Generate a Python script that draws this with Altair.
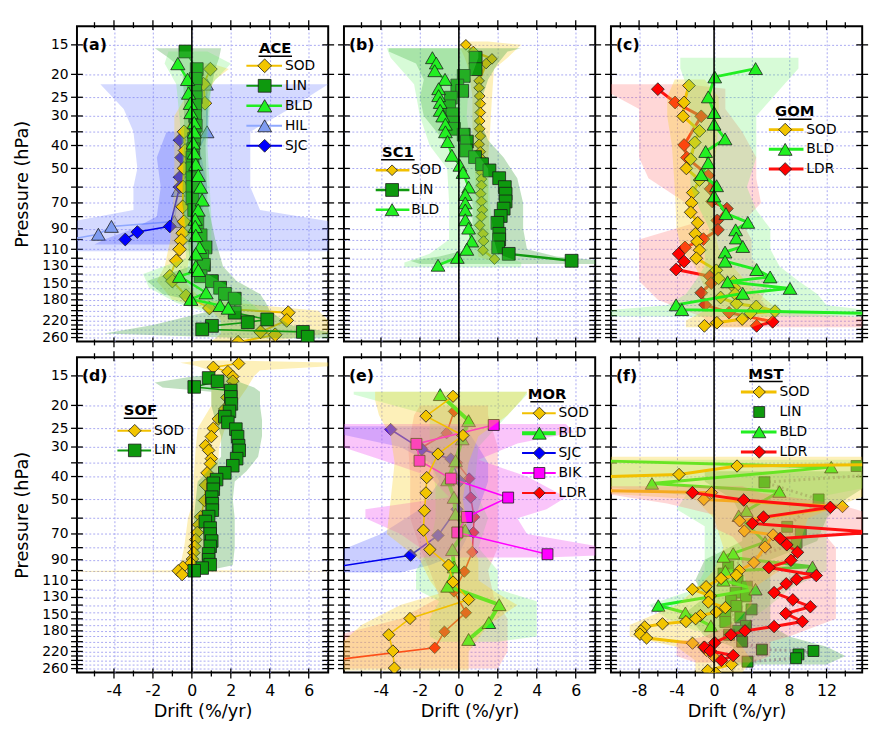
import altair as alt
import pandas as pd

# ---------------- data ----------------
# Panel (a) ACE
A_SOD_P = [19.0, 22.0, 26.5, 35.0, 42.0, 50.0, 60.0, 72.7, 84.0, 94.0, 101.0, 110.0, 123.0, 143.0, 150.0, 173.0, 195.0, 204.0, 220.0, 246.0, 253.0, 272.0]
A_SOD_X = [0.95, 0.6, 0.67, -0.4, -0.35, -0.4, -0.45, -0.47, -0.4, -0.47, -0.55, -0.63, -0.8, -1.13, -1.0, -0.3, 0.9, 4.95, 4.87, 3.53, 4.28, 2.37]
A_SOD_BP = [18.0, 19.0, 21.0, 30.0, 60.0, 100.0, 130.0, 150.0, 180.0, 200.0, 220.0, 250.0, 270.0]
A_SOD_LO = [0.0, -0.1, 0.2, -0.9, -0.9, -1.1, -1.4, -1.8, -1.0, 1.0, 1.5, 1.5, 1.0]
A_SOD_HI = [1.0, 1.9, 1.2, 0.2, 0.1, 0.0, -0.2, -0.4, 0.5, 6.5, 7.0, 7.0, 4.0]

A_LIN_P = [16.0, 19.0, 20.9, 23.5, 25.0, 27.0, 30.0, 33.0, 37.5, 41.5, 45.0, 50.0, 55.0, 60.0, 67.0, 75.0, 85.0, 96.0, 108.0, 118.0, 128.0, 143.0, 150.0, 160.0, 170.0, 178.0, 204.0, 218.0, 224.0, 232.0, 240.0, 246.0, 258.0]
A_LIN_X = [-0.33, 0.25, 0.2, 0.17, 0.2, 0.17, 0.17, 0.2, 0.12, 0.07, 0.03, 0.03, 0.03, 0.03, 0.03, 0.12, 0.28, 0.45, 0.7, 0.53, 0.62, 0.45, 1.03, 1.45, 1.7, 2.2, 2.2, 3.87, 2.87, 1.03, 0.53, 5.7, 5.95]
A_LIN_BP = [15.5, 17.0, 19.0, 25.0, 40.0, 70.0, 100.0, 130.0, 150.0, 170.0, 185.0, 200.0, 230.0, 250.0, 262.0]
A_LIN_LO = [-1.9, -1.2, -0.5, -0.4, -0.4, -0.5, -0.2, -0.1, -2.3, -1.5, 0.5, 1.0, -2.0, -4.5, 3.0]
A_LIN_HI = [1.5, 1.4, 1.2, 0.9, 0.7, 0.8, 1.2, 1.6, 2.3, 3.5, 3.8, 4.0, 5.0, 7.5, 7.5]

A_BLD_P = [18.0, 21.0, 24.0, 26.5, 29.0, 32.0, 35.0, 39.0, 43.0, 48.0, 53.5, 60.0, 68.0, 75.0, 82.0, 88.0, 96.0, 108.0, 115.0, 130.0, 135.0, 143.0, 168.0, 179.0, 190.0, 195.0]
A_BLD_X = [-0.72, -0.22, -0.17, -0.08, -0.05, 0.12, 0.12, 0.07, 0.12, 0.2, 0.33, 0.45, 0.53, 0.32, 0.17, 0.17, 0.2, 0.4, 0.2, 0.2, 0.33, -0.63, 0.73, -0.05, 1.45, 1.87]
A_BLD_BP = [16.0, 18.0, 22.0, 40.0, 80.0, 120.0, 140.0, 160.0, 185.0, 200.0]
A_BLD_LO = [-1.2, -1.4, -0.8, -0.5, -0.4, -0.3, -2.5, -2.2, -0.8, 0.5]
A_BLD_HI = [0.8, 2.0, 1.0, 0.8, 1.0, 1.0, 0.8, 2.0, 3.0, 3.5]

A_HIL_P = [22.0, 35.0, 62.0, 84.0, 88.0, 95.0, 104.0]
A_HIL_X = [0.75, 0.78, -0.7, -0.9, -4.13, -4.8, -7.5]
A_HIL_BP = [22.0, 28.0, 35.0, 50.0, 60.0, 75.0, 85.0, 95.0, 108.0, 112.0]
A_HIL_LO = [-4.7, -3.5, -3.0, -2.8, -3.0, -3.0, -6.5, -6.5, -6.5, -6.5]
A_HIL_HI = [7.0, 5.0, 3.0, 3.0, 3.0, 3.5, 7.5, 7.5, 7.5, 7.5]

A_SJC_P = [38.0, 45.0, 54.5, 60.0, 88.0, 93.0, 100.0]
A_SJC_X = [-0.63, -0.55, -0.63, -0.63, -1.13, -2.8, -3.42]
A_SJC_BP = [35.0, 45.0, 60.0, 80.0, 90.0, 100.0, 105.0]
A_SJC_LO = [-1.3, -1.8, -1.6, -1.8, -3.0, -4.5, -5.0]
A_SJC_HI = [0.2, 0.5, 0.8, 0.5, 0.5, 0.3, 0.0]

# Panel (b) SC1
B_SOD_P = [15.0, 16.0, 17.2, 18.0, 21.3, 22.8, 24.7, 26.6, 29.0, 31.5, 34.0, 36.5, 39.5, 42.5, 45.5, 48.5, 52.0, 55.5, 59.0, 64.0, 69.0, 75.0, 80.0, 87.0, 94.6, 101.5, 111.0, 121.0]
B_SOD_X = [0.36, 0.74, 1.7, 1.4, 1.04, 1.04, 1.07, 1.1, 1.1, 1.07, 1.07, 1.1, 1.04, 1.1, 1.16, 1.16, 1.16, 1.16, 1.16, 1.12, 1.16, 1.21, 1.16, 1.07, 1.24, 1.27, 1.24, 1.83]
B_SOD_BP = [14.5, 15.0, 17.0, 19.0, 25.0, 35.0, 45.0, 70.0, 100.0, 118.0, 122.0]
B_SOD_LO = [0.2, 0.0, 0.3, 0.5, 0.7, 0.7, 0.8, 0.9, 0.9, 1.0, 1.5]
B_SOD_HI = [1.5, 3.2, 2.5, 1.8, 1.7, 1.6, 1.5, 1.5, 1.6, 1.8, 2.2]

B_LIN_P = [17.0, 19.0, 20.3, 22.3, 23.5, 25.1, 27.3, 29.5, 32.0, 34.0, 36.0, 38.5, 42.0, 44.8, 48.0, 51.0, 55.0, 60.0, 64.0, 69.0, 74.0, 79.5, 85.0, 94.6, 100.0, 108.0, 115.0, 123.0]
B_LIN_X = [0.86, 0.86, 0.25, -0.08, 0.17, -0.41, -0.5, -0.33, -0.3, -0.25, 0.25, 0.41, 0.38, 0.83, 1.19, 1.57, 2.07, 2.36, 2.4, 2.4, 2.3, 2.15, 1.98, 2.07, 2.07, 2.02, 2.56, 5.79]
B_LIN_BP = [15.5, 16.0, 18.0, 21.0, 25.0, 30.0, 38.0, 45.0, 55.0, 70.0, 90.0, 110.0, 118.0, 123.0, 127.0]
B_LIN_LO = [-3.6, -3.6, -2.2, -1.8, -2.0, -1.8, -0.8, -0.2, 0.3, 0.7, 0.7, 0.5, -1.0, -2.5, -2.0]
B_LIN_HI = [3.2, 2.5, 2.0, 1.5, 1.2, 1.0, 1.5, 2.3, 3.0, 3.3, 3.3, 3.5, 5.0, 7.5, 7.5]

B_BLD_P = [17.0, 17.9, 19.3, 21.0, 23.0, 24.6, 26.3, 28.4, 30.0, 32.5, 35.0, 38.5, 44.0, 48.5, 52.0, 60.0, 64.5, 70.0, 75.0, 82.5, 89.5, 101.5, 110.0, 119.0, 128.5]
B_BLD_X = [-1.36, -1.16, -1.24, -0.71, -1.04, -1.04, -0.96, -0.96, -0.83, -0.69, -0.69, -0.58, -0.36, 0.05, 0.21, 0.5, 0.33, 0.33, 0.33, 0.33, 0.5, 0.66, 0.41, -0.08, -1.07]
B_BLD_BP = [15.5, 17.0, 22.0, 30.0, 40.0, 50.0, 70.0, 100.0, 115.0, 125.0, 131.0]
B_BLD_LO = [-3.7, -3.5, -2.3, -2.0, -1.5, -0.6, -0.5, -0.5, -1.5, -2.8, -2.8]
B_BLD_HI = [1.0, 1.0, 0.5, 0.4, 0.6, 1.5, 1.6, 1.8, 2.0, 3.2, 3.2]

# Panel (c) GOM
C_SOD_P = [22.3, 26.3, 30.1, 34.7, 38.8, 45.7, 50.0, 56.0, 63.3, 70.0, 76.7, 85.0, 94.6, 102.0, 111.0, 120.0, 135.0, 146.0, 151.0, 160.0, 170.0, 176.0, 187.0, 192.0, 201.0, 205.0, 217.0, 225.0, 232.0]
C_SOD_X = [-2.68, -3.2, -3.3, -1.55, -2.06, -2.5, -2.96, -1.55, -2.27, -2.4, -2.5, -1.75, -2.0, -1.8, -1.55, -1.9, 0.24, 0.48, 2.06, 2.2, 2.24, 0.7, 2.4, 4.5, 6.5, 3.9, 3.0, 0.3, -1.03]
C_SOD_BP = [21.0, 25.0, 30.0, 40.0, 60.0, 90.0, 110.0, 130.0, 160.0, 200.0, 220.0, 235.0]
C_SOD_LO = [-4.2, -5.0, -5.0, -4.5, -4.2, -4.0, -3.5, -2.0, -1.0, -1.0, -3.0, -3.0]
C_SOD_HI = [-1.0, 0.5, 0.5, 0.3, -0.3, 0.0, 0.5, 2.0, 4.0, 7.0, 6.0, 4.0]

C_BLD_P = [18.9, 20.5, 24.9, 29.0, 32.5, 37.5, 42.4, 47.3, 53.1, 59.2, 65.4, 77.7, 84.6, 91.0, 98.5, 107.0, 113.0, 123.5, 134.0, 144.0, 151.0, 161.0, 169.0, 189.0, 198.0, 206.0]
C_BLD_X = [4.43, 0.07, -0.62, 0.0, 0.0, 1.17, -0.9, -0.62, -1.37, 0.27, 0.0, 1.27, 3.6, 2.3, 2.37, 3.06, 1.17, 1.17, 4.54, 5.98, 1.44, 8.1, 3.06, -4.05, -3.44, 18.0]
C_BLD_BP = [17.0, 18.9, 22.0, 30.0, 45.0, 60.0, 75.0, 90.0, 110.0, 130.0, 150.0, 170.0, 190.0, 200.0, 212.0]
C_BLD_LO = [-3.6, -3.6, -3.0, -2.5, -2.6, -2.5, -1.5, -0.5, -1.0, -1.0, -2.0, -3.0, -5.0, -12.0, -12.0]
C_BLD_HI = [9.0, 9.0, 7.5, 4.5, 4.5, 3.5, 4.5, 6.0, 6.0, 7.0, 9.0, 11.0, 12.0, 17.0, 17.0]

C_LDR_P = [23.1, 26.3, 30.1, 39.8, 45.0, 53.6, 61.0, 69.0, 74.0, 83.0, 91.0, 99.6, 108.0, 115.0, 124.0, 134.0, 143.0, 153.0, 168.0, 189.0, 204.0, 223.0, 232.0]
C_LDR_X = [-6.0, -4.16, -1.37, -3.2, -2.9, -0.62, -0.38, -0.2, 1.37, 0.34, 0.41, -1.13, -3.1, -3.78, -3.2, -4.05, -0.45, -0.3, -1.37, -0.96, 1.6, 6.25, 4.54]
C_LDR_BP = [22.0, 23.0, 28.0, 35.0, 45.0, 55.0, 70.0, 85.0, 100.0, 120.0, 150.0, 180.0, 200.0, 215.0, 235.0]
C_LDR_LO = [-12.0, -12.0, -8.0, -8.0, -8.0, -7.0, -3.0, -2.0, -8.0, -8.0, -8.0, -6.0, -3.0, -1.0, -1.0]
C_LDR_HI = [-3.0, 1.2, 1.2, 3.0, 4.5, 4.5, 5.0, 3.0, 4.0, 4.0, 6.0, 5.0, 6.0, 17.0, 17.0]

# Panel (d) SOF
D_SOD_P = [13.3, 13.8, 14.4, 15.1, 15.8, 17.0, 18.5, 20.7, 22.8, 25.0, 27.1, 29.6, 31.0, 33.6, 35.3, 38.6, 43.5, 50.5, 59.2, 64.0, 69.0, 74.0, 79.0, 84.0, 89.4, 93.0, 96.6, 100.2, 104.0]
D_SOD_X = [2.4, 1.1, 1.85, 2.1, 2.1, 1.95, 1.8, 1.69, 1.36, 1.1, 1.0, 0.7, 0.86, 1.0, 0.95, 0.78, 0.7, 0.65, 0.45, 0.35, 0.28, 0.2, 0.15, 0.1, 0.03, -0.05, -0.46, -0.7, -0.5]
D_SOD_BP = [12.9, 13.2, 13.6, 14.2, 15.0, 17.0, 20.0, 25.0, 30.0, 40.0, 50.0, 60.0, 80.0, 95.0, 99.8, 100.4, 101.0, 101.6, 104.0, 106.0]
D_SOD_LO = [0.5, -0.6, 0.2, 0.9, 0.8, 1.0, 1.0, 0.3, 0.2, 0.1, 0.1, -0.2, -0.4, -0.6, -0.6, -6.5, -6.5, -0.8, -0.9, -0.6]
D_SOD_HI = [2.0, 7.5, 7.5, 3.5, 3.2, 2.8, 2.2, 1.7, 1.4, 1.3, 1.3, 1.1, 0.9, 0.8, 1.0, 7.5, 7.5, 0.6, 0.0, -0.2]

D_LIN_P = [15.3, 15.8, 16.7, 17.3, 18.4, 19.7, 21.2, 22.3, 23.6, 25.2, 27.1, 29.6, 31.0, 33.6, 36.0, 38.6, 41.2, 42.7, 45.3, 48.9, 52.1, 55.5, 59.1, 62.0, 66.1, 70.0, 75.0, 79.0, 85.0, 90.0, 94.4, 97.6, 100.2]
D_LIN_X = [0.86, 1.32, 0.12, 2.0, 2.0, 2.03, 1.93, 1.69, 1.85, 2.26, 2.35, 2.4, 2.43, 2.3, 2.1, 1.69, 1.27, 1.1, 1.1, 1.02, 1.05, 1.05, 0.86, 0.69, 0.94, 0.94, 1.02, 0.94, 0.86, 0.86, 0.94, 0.53, 0.12]
D_LIN_BP = [15.0, 16.0, 16.8, 17.5, 20.0, 23.0, 27.0, 33.0, 38.0, 42.0, 50.0, 60.0, 80.0, 95.0, 100.0]
D_LIN_LO = [0.2, -1.9, -1.5, 1.0, 1.0, 1.2, 1.5, 1.5, 0.8, 0.3, 0.2, 0.1, 0.2, 0.1, -0.1]
D_LIN_HI = [2.0, 2.5, 3.2, 3.5, 3.5, 3.6, 3.6, 3.4, 2.8, 2.2, 2.1, 2.2, 2.2, 2.1, 0.8]

# Panel (e) MOR
E_SOD_P = [18.3, 22.2, 26.8, 32.1, 40.4, 46.9, 55.8, 67.5, 81.5, 94.8, 111.8, 132.6, 159.5, 187.0, 219.0, 258.6]
E_SOD_X = [-0.3, -1.69, 0.21, -1.07, -1.65, -1.69, -1.77, -1.82, -1.49, -0.53, -0.3, 0.5, -2.51, -3.6, -3.39, -3.31]
E_SOD_BP = [17.5, 19.0, 22.0, 27.0, 35.0, 50.0, 70.0, 90.0, 110.0, 125.0, 140.0, 170.0, 220.0, 265.0]
E_SOD_LO = [-4.3, -4.3, -4.1, -3.5, -3.3, -3.5, -3.7, -2.0, -1.5, -1.0, -3.0, -5.0, -6.5, -6.5]
E_SOD_HI = [3.5, 3.2, 2.5, 1.0, 0.5, 0.2, 0.5, 1.0, 1.0, 2.0, 3.0, 1.5, 0.5, 0.5]

E_BLD_P = [18.0, 23.2, 27.7, 34.3, 41.3, 49.0, 57.7, 67.5, 81.5, 96.5, 116.5, 139.5, 166.0, 195.7]
E_BLD_X = [-0.96, 0.5, 0.17, -0.17, -0.58, -0.25, -0.17, 0.33, -0.33, -0.25, -0.58, 2.07, 1.54, 0.5]
E_BLD_BP = [17.5, 18.0, 22.0, 30.0, 45.0, 60.0, 80.0, 100.0, 120.0, 135.0, 160.0, 190.0, 200.0]
E_BLD_LO = [-5.4, -5.4, -1.5, -1.5, -1.2, -1.2, -1.5, -2.2, -2.2, -1.0, -1.5, -1.5, -1.0]
E_BLD_HI = [3.5, 3.5, 2.5, 1.0, 0.8, 1.5, 1.0, 2.0, 2.0, 4.0, 4.0, 4.0, 2.0]

E_SJC_P = [25.3, 30.7, 33.7, 41.8, 55.0, 71.0, 86.1, 100.0]
E_SJC_X = [-3.5, -1.9, -0.41, 0.05, -0.1, -1.07, -2.48, -7.5]
E_SJC_BP = [24.5, 26.0, 30.0, 35.0, 42.0, 55.0, 70.0, 85.0, 95.0, 102.0]
E_SJC_LO = [-6.5, -6.5, -3.0, -1.5, -1.0, -2.0, -4.0, -6.5, -6.5, -6.5]
E_SJC_HI = [0.5, 0.5, 1.0, 1.5, 1.5, 1.0, 0.5, 0.0, -1.5, -3.0]

E_BIK_P = [24.2, 29.1, 34.3, 40.8, 49.1, 59.3, 69.0, 85.3]
E_BIK_X = [1.79, -2.18, -2.02, -0.41, 2.53, 0.41, -0.08, 4.55]
E_BIK_BP = [24.0, 26.0, 29.0, 34.0, 40.0, 49.0, 55.0, 60.0, 70.0, 80.0, 86.0, 88.0]
E_BIK_LO = [-6.5, -6.5, -6.5, -4.0, -1.5, -0.5, -4.8, -4.8, -3.0, -2.0, -2.0, -2.0]
E_BIK_HI = [5.5, 5.9, 3.0, 1.0, 3.5, 5.5, 4.5, 3.0, 3.5, 7.5, 7.5, 4.5]

E_LDR_P = [21.2, 26.2, 30.2, 35.0, 40.8, 49.1, 59.3, 69.0, 83.5, 101.0, 122.6, 150.8, 181.5, 212.4, 245.0]
E_LDR_X = [-0.25, -0.63, -1.93, -0.1, 0.53, 0.61, 0.78, 0.74, 0.69, 0.28, -0.25, 0.36, -0.74, -1.24, -7.5]
E_LDR_BP = [20.0, 22.0, 30.0, 40.0, 60.0, 80.0, 100.0, 130.0, 160.0, 190.0, 220.0, 260.0]
E_LDR_LO = [-2.0, -2.3, -2.6, -2.5, -2.5, -2.0, -1.5, -1.0, -3.0, -6.5, -6.5, -6.5]
E_LDR_HI = [1.5, 1.5, 2.0, 2.0, 2.0, 2.0, 1.5, 1.8, 2.5, 2.5, 2.5, 2.0]

# Panel (f) MST
F_SOD_P = [35.5, 36.1, 39.2, 40.5, 45.5, 46.8, 50.0, 53.6, 61.6, 68.0, 70.6, 79.5, 92.5, 100.0, 104.6, 108.0, 117.0, 120.0, 128.0, 136.0, 143.5, 150.0, 155.0, 160.0, 164.5, 168.0, 173.0, 180.0, 186.0, 193.0, 203.0, 211.0, 218.0, 232.0, 249.7, 264.6, 272.0]
F_SOD_X = [20.0, 2.45, -3.74, -16.0, -16.0, -0.27, -1.09, 13.7, 2.72, 3.23, 6.3, 5.44, 4.25, 2.7, 2.38, 0.75, -0.85, -2.31, -0.4, -0.61, 1.2, 0.24, -1.46, -1.97, -3.0, -5.5, -7.4, -7.8, -7.9, -7.2, -2.3, -1.1, -0.8, 0.0, 1.87, -0.68, 0.2]
F_SOD_BP = [33.0, 35.0, 47.0, 50.0, 60.0, 80.0, 100.0, 120.0, 140.0, 170.0, 190.0, 210.0, 240.0, 270.0]
F_SOD_LO = [-12.0, -12.0, -12.0, -2.0, 0.0, 1.0, 0.0, -2.0, -4.0, -9.0, -9.0, -4.0, -2.0, -2.0]
F_SOD_HI = [17.0, 17.0, 17.0, 15.0, 10.0, 9.0, 7.0, 4.0, 4.0, 2.0, 2.0, 3.0, 4.0, 3.0]

F_LIN_P = [36.1, 39.5, 42.3, 50.0, 65.3, 68.9, 76.3, 96.0, 103.0, 110.0, 117.0, 124.0, 128.6, 134.0, 141.2, 146.0, 150.8, 158.0, 165.0, 171.5, 180.0, 187.0, 200.0, 216.1, 219.0, 226.4, 235.0, 243.0]
F_LIN_X = [15.2, 16.5, 5.37, 11.15, 7.8, 9.25, 8.8, 1.5, 1.0, 2.5, 3.5, 2.3, 3.4, 1.8, 2.38, 4.0, 1.19, 2.8, 1.2, 3.4, 2.5, 1.6, 3.0, 5.1, 10.6, 9.0, 8.74, 3.57]
F_LIN_BP = [38.0, 42.0, 50.0, 60.0, 75.0, 90.0, 110.0, 130.0, 150.0, 170.0, 190.0, 210.0, 230.0, 250.0]
F_LIN_LO = [-1.0, -1.0, 2.0, 3.0, 3.0, -1.0, -2.0, -1.0, -3.0, -2.0, -1.0, 2.0, 2.0, 2.0]
F_LIN_HI = [17.0, 17.0, 14.0, 12.0, 11.0, 6.0, 6.0, 6.0, 6.0, 6.0, 8.0, 12.0, 14.0, 12.0]

F_BLD_P = [34.0, 36.5, 42.8, 46.3, 55.8, 58.6, 75.8, 84.6, 87.2, 96.4, 100.6, 110.0, 120.0, 140.6, 150.8, 171.5]
F_BLD_X = [-16.0, 12.5, -6.63, 6.97, 3.47, 2.62, 5.44, 2.04, 1.02, 10.5, 1.2, 1.0, 4.42, -5.95, -3.06, -0.34]
F_BLD_BP = [34.0, 36.0, 44.0, 48.0, 55.0, 65.0, 80.0, 100.0, 120.0, 140.0, 160.0, 180.0]
F_BLD_LO = [-12.0, -12.0, -12.0, -3.0, -4.0, -1.0, -1.0, -1.0, -2.0, -7.0, -5.0, -2.0]
F_BLD_HI = [17.0, 17.0, 17.0, 12.0, 12.0, 12.0, 12.0, 12.0, 8.0, 6.0, 4.0, 3.0]

F_LDR_P = [46.8, 50.3, 54.0, 59.4, 63.2, 68.9, 73.2, 77.8, 83.7, 90.5, 97.1, 105.0, 108.9, 113.8, 124.0, 133.0, 142.3, 152.0, 164.3, 172.5, 180.0, 187.0, 202.0, 211.0, 219.0, 229.0, 240.0]
F_LDR_X = [-2.31, 3.16, 12.4, 5.27, 4.08, 17.0, 7.04, 7.76, 8.9, 8.2, 5.85, 10.9, 8.8, 7.7, 6.4, 8.4, 10.27, 7.65, 9.42, 6.4, 3.3, 1.8, 0.07, -1.02, -0.4, 2.04, 0.78]
F_LDR_BP = [44.0, 47.0, 52.0, 58.0, 66.0, 72.0, 80.0, 100.0, 130.0, 160.0, 190.0, 200.0, 230.0, 245.0]
F_LDR_LO = [-12.0, -12.0, -5.0, 0.0, 0.0, 2.0, 3.0, 3.0, 4.0, 3.0, -1.0, -4.0, -4.0, -2.0]
F_LDR_HI = [3.0, 5.0, 13.0, 17.0, 17.0, 12.0, 13.0, 13.0, 13.0, 13.0, 8.0, 6.0, 6.0, 4.0]

# axis ticks
Y_TICKS = [15, 20, 25, 30, 35, 40, 50, 60, 70, 80, 90, 100, 110, 120, 130, 140, 150, 160, 170, 180, 190, 200, 210, 220, 230, 240, 250, 260]
Y_LABELED = [15, 20, 25, 30, 40, 50, 70, 90, 110, 130, 150, 180, 220, 260]
X_NARROW = [-5.9, 7.0]
X_NARROW_MAJ = [-4, -2, 0, 2, 4, 6]
X_NARROW_MIN = [-5, -3, -1, 1, 3, 5]
X_WIDE = [-11.0, 15.8]
X_WIDE_MAJ = [-8, -4, 0, 4, 8, 12]
X_WIDE_MIN = [-10, -6, -2, 2, 6, 10, 14]
Y_DOMAIN = [12.5, 270]

# ---------------- styles ----------------
FONT = "DejaVu Sans"
W, H = 255, 320
SX, SY = W / 261.0, H / 326.0
GRID = "#a9a9f2"
COL = {"SOD": "#F2C500", "LIN": "#0E990E", "BLD": "#22F022", "HIL": "#7F9CF0",
       "SJC": "#0000FF", "BIK": "#FF00FF", "LDR": "#FF0000"}
LCOL = {"SOD": "#F2C000", "LIN": "#119911", "BLD": "#22EE22", "HIL": "#8FA8FF",
        "SJC": "#0000EE", "BIK": "#FF00FF", "LDR": "#FF1010"}
BCOL = {"SOD": "#F8D22A", "LIN": "#3FA03F", "BLD": "#66F066", "HIL": "#6F80FF",
        "SJC": "#4050FF", "BIK": "#F050F0", "LDR": "#FF6F6F"}
BOP = {"SOD": 0.33, "LIN": 0.33, "BLD": 0.26, "HIL": 0.3, "SJC": 0.28, "BIK": 0.33, "LDR": 0.28}
SHAPE = {"SOD": "diamond", "LIN": "square", "BLD": "triangle-up", "HIL": "triangle-up",
         "SJC": "diamond", "BIK": "square", "LDR": "diamond"}
SIZE_K = 1.3
LABEL_FS = 14


def xscale(dom):
    return alt.Scale(domain=dom, nice=False, zero=False)


def yscale():
    return alt.Scale(type="log", domain=Y_DOMAIN, reverse=True, nice=False)


def series_layers(name, p, x, bp, lo, hi, xs, size, lw, dotted=False):
    band = pd.DataFrame({"p": bp, "lo": lo, "hi": hi}).sort_values("p")
    pts = pd.DataFrame({"p": p, "x": x})
    out = []
    out.append(alt.Chart(band).mark_area(orient="horizontal", color=BCOL[name], opacity=BOP[name], clip=True).encode(
        y=alt.Y("p:Q", scale=yscale(), axis=None),
        x=alt.X("lo:Q", scale=xs, axis=None),
        x2=alt.X2("hi:Q")))
    if dotted:
        lm = alt.Chart(pts).mark_line(color="#9a9a9a", strokeWidth=lw, strokeDash=[2, 3], clip=True)
    else:
        lm = alt.Chart(pts).mark_line(color=LCOL[name], strokeWidth=lw, clip=True)
    out.append(lm.encode(y=alt.Y("p:Q", scale=yscale(), axis=None),
                         x=alt.X("x:Q", scale=xs, axis=None),
                         order=alt.Order("p:Q")))
    out.append(alt.Chart(pts).mark_point(shape=SHAPE[name], filled=True, fill=COL[name], stroke="#1c1c1c",
                                         strokeWidth=0.8, size=size * SIZE_K, opacity=1, clip=True).encode(
        y=alt.Y("p:Q", scale=yscale(), axis=None),
        x=alt.X("x:Q", scale=xs, axis=None)))
    return out


def legend_layers(title, names, pos, sizes, lws, noline=()):
    tx, ty, y0, dy, lx0, lx1, mx, txx = pos
    tx, lx0, lx1, mx, txx = [v * SX for v in (tx, lx0, lx1, mx, txx)]
    ty, y0 = ty * SY, y0 * SY
    out = []
    tdf = pd.DataFrame({"t": [title]})
    out.append(alt.Chart(tdf).mark_text(font=FONT, fontSize=15, fontWeight="bold", align="center",
                                        baseline="middle", color="black").encode(
        text="t:N", x=alt.value(tx), y=alt.value(ty)))
    out.append(alt.Chart(tdf).mark_rule(color="black", strokeWidth=1.5).encode(
        x=alt.value(tx - 17), x2=alt.value(tx + 17), y=alt.value(ty + 8)))
    for i, n in enumerate(names):
        yy = y0 + i * dy
        df = pd.DataFrame({"n": [n]})
        if n not in noline:
            out.append(alt.Chart(df).mark_rule(color=LCOL[n], strokeWidth=max(lws[n], 2)).encode(
                x=alt.value(lx0), x2=alt.value(lx1), y=alt.value(yy)))
        out.append(alt.Chart(df).mark_point(shape=SHAPE[n], filled=True, fill=COL[n], stroke="#1c1c1c",
                                            strokeWidth=0.8, size=sizes[n] * SIZE_K, opacity=1).encode(
            x=alt.value(mx), y=alt.value(yy)))
        out.append(alt.Chart(df).mark_text(font=FONT, fontSize=14, align="left", baseline="middle",
                                           color="black").encode(
            text="n:N", x=alt.value(txx), y=alt.value(yy)))
    return out


def make_panel(tag, series, draw, leg_title, leg_names, leg_pos, xdom, xmaj, xmin,
               sizes, lws, show_x, show_y, dotted=()):
    xs = xscale(xdom)
    layers = []
    ydf = pd.DataFrame({"v": Y_TICKS})
    yaxis_kw = dict(orient="left", values=Y_TICKS, grid=True, gridColor=GRID, gridDash=[2, 2], gridWidth=1,
                    ticks=False, tickSize=0, domain=False, labels=show_y, labelOverlap=False,
                    labelFont=FONT, labelFontSize=LABEL_FS, labelColor="black", labelPadding=9,
                    labelBaseline="middle")
    if show_y:
        yaxis_kw.update(labelExpr="indexof(%s, datum.value) >= 0 ? '' + datum.value : ''" % str(Y_LABELED),
                        labelOffset={"condition": [{"test": "datum.value == 130", "value": -1},
                                                   {"test": "datum.value == 150", "value": 2}],
                                     "value": 0},
                        title="Pressure (hPa)", titleFont=FONT, titleFontSize=18,
                        titleFontWeight="normal", titleColor="black", titlePadding=10)
    else:
        yaxis_kw.update(title=None)
    xaxis_kw = dict(orient="bottom", values=xmaj, grid=True, gridColor=GRID, gridDash=[2, 2], gridWidth=1,
                    ticks=False, tickSize=0, domain=False, labels=show_x, labelOverlap=False,
                    labelFont=FONT, labelFontSize=16, labelColor="black", labelPadding=10, labelFlush=False)
    if show_x:
        xaxis_kw.update(labelExpr="datum.value < 0 ? '-' + abs(datum.value) : '' + datum.value",
                        title="Drift (%/yr)", titleFont=FONT, titleFontSize=18,
                        titleFontWeight="normal", titleColor="black", titlePadding=5)
    else:
        xaxis_kw.update(title=None)

    # axis carrier + tick marks
    mdf = pd.DataFrame({"v": xmaj})
    ndf = pd.DataFrame({"v": xmin})
    layers.append(alt.Chart(ydf).mark_rule(color="black", strokeWidth=1.3).encode(
        y=alt.Y("v:Q", scale=yscale(), axis=alt.Axis(**yaxis_kw)),
        x=alt.value(-6), x2=alt.value(6)))
    layers.append(alt.Chart(mdf).mark_rule(color="black", strokeWidth=1.3).encode(
        x=alt.X("v:Q", scale=xs, axis=alt.Axis(**xaxis_kw)),
        y=alt.value(H - 4), y2=alt.value(H + 6)))
    layers.append(alt.Chart(ydf).mark_rule(color="black", strokeWidth=1.3).encode(
        y=alt.Y("v:Q", scale=yscale(), axis=None),
        x=alt.value(W - 6), x2=alt.value(W + 6)))
    layers.append(alt.Chart(ndf).mark_rule(color="black", strokeWidth=1.3).encode(
        x=alt.X("v:Q", scale=xs, axis=None), y=alt.value(H - 2), y2=alt.value(H + 4)))
    layers.append(alt.Chart(mdf).mark_rule(color="black", strokeWidth=1.3).encode(
        x=alt.X("v:Q", scale=xs, axis=None), y=alt.value(-6), y2=alt.value(4)))
    layers.append(alt.Chart(ndf).mark_rule(color="black", strokeWidth=1.3).encode(
        x=alt.X("v:Q", scale=xs, axis=None), y=alt.value(-4), y2=alt.value(2)))

    for name in draw:
        p, x, bp, lo, hi = series[name]
        layers += series_layers(name, p, x, bp, lo, hi, xs, sizes[name], lws[name], name in dotted)

    layers.append(alt.Chart(pd.DataFrame({"v": [0]})).mark_rule(color="black", strokeWidth=1.6).encode(
        x=alt.X("v:Q", scale=xs, axis=None)))
    layers.append(alt.Chart(pd.DataFrame({"t": [tag]})).mark_text(
        font=FONT, fontSize=16, fontWeight="bold", align="left", baseline="middle", color="black").encode(
        text="t:N", x=alt.value(5), y=alt.value(20 * SY)))
    layers += legend_layers(leg_title, leg_names, leg_pos, sizes, lws, dotted)
    return alt.layer(*layers).properties(width=W, height=H).resolve_axis(x="independent", y="independent")


pa = make_panel(
    "(a)",
    {"SOD": (A_SOD_P, A_SOD_X, A_SOD_BP, A_SOD_LO, A_SOD_HI),
     "LIN": (A_LIN_P, A_LIN_X, A_LIN_BP, A_LIN_LO, A_LIN_HI),
     "BLD": (A_BLD_P, A_BLD_X, A_BLD_BP, A_BLD_LO, A_BLD_HI),
     "HIL": (A_HIL_P, A_HIL_X, A_HIL_BP, A_HIL_LO, A_HIL_HI),
     "SJC": (A_SJC_P, A_SJC_X, A_SJC_BP, A_SJC_LO, A_SJC_HI)},
    ["HIL", "SJC", "SOD", "LIN", "BLD"], "ACE", ["SOD", "LIN", "BLD", "HIL", "SJC"],
    (206, 23, 41, 20.3, 176, 213, 195, 216), X_NARROW, X_NARROW_MAJ, X_NARROW_MIN,
    {"SOD": 150, "LIN": 130, "BLD": 160, "HIL": 150, "SJC": 130},
    {"SOD": 2.0, "LIN": 1.6, "BLD": 2.5, "HIL": 1.6, "SJC": 1.6}, False, True)

pb = make_panel(
    "(b)",
    {"SOD": (B_SOD_P, B_SOD_X, B_SOD_BP, B_SOD_LO, B_SOD_HI),
     "LIN": (B_LIN_P, B_LIN_X, B_LIN_BP, B_LIN_LO, B_LIN_HI),
     "BLD": (B_BLD_P, B_BLD_X, B_BLD_BP, B_BLD_LO, B_BLD_HI)},
    ["SOD", "LIN", "BLD"], "SC1", ["SOD", "LIN", "BLD"],
    (56, 130, 149, 20, 33, 68, 50, 70), X_NARROW, X_NARROW_MAJ, X_NARROW_MIN,
    {"SOD": 90, "LIN": 130, "BLD": 150},
    {"SOD": 2.5, "LIN": 2.5, "BLD": 2.5}, False, False)

pc = make_panel(
    "(c)",
    {"SOD": (C_SOD_P, C_SOD_X, C_SOD_BP, C_SOD_LO, C_SOD_HI),
     "BLD": (C_BLD_P, C_BLD_X, C_BLD_BP, C_BLD_LO, C_BLD_HI),
     "LDR": (C_LDR_P, C_LDR_X, C_LDR_BP, C_LDR_LO, C_LDR_HI)},
    ["LDR", "SOD", "BLD"], "GOM", ["SOD", "BLD", "LDR"],
    (191, 88, 107, 20, 164, 200, 181, 203), X_WIDE, X_WIDE_MAJ, X_WIDE_MIN,
    {"SOD": 130, "BLD": 150, "LDR": 130},
    {"SOD": 3.0, "BLD": 3.0, "LDR": 3.0}, False, False)

pd_ = make_panel(
    "(d)",
    {"SOD": (D_SOD_P, D_SOD_X, D_SOD_BP, D_SOD_LO, D_SOD_HI),
     "LIN": (D_LIN_P, D_LIN_X, D_LIN_BP, D_LIN_LO, D_LIN_HI)},
    ["SOD", "LIN"], "SOF", ["SOD", "LIN"],
    (66, 55, 76, 20, 42, 77, 60, 80), X_NARROW, X_NARROW_MAJ, X_NARROW_MIN,
    {"SOD": 125, "LIN": 125},
    {"SOD": 1.6, "LIN": 1.6}, True, True)

pe = make_panel(
    "(e)",
    {"SOD": (E_SOD_P, E_SOD_X, E_SOD_BP, E_SOD_LO, E_SOD_HI),
     "BLD": (E_BLD_P, E_BLD_X, E_BLD_BP, E_BLD_LO, E_BLD_HI),
     "SJC": (E_SJC_P, E_SJC_X, E_SJC_BP, E_SJC_LO, E_SJC_HI),
     "BIK": (E_BIK_P, E_BIK_X, E_BIK_BP, E_BIK_LO, E_BIK_HI),
     "LDR": (E_LDR_P, E_LDR_X, E_LDR_BP, E_LDR_LO, E_LDR_HI)},
    ["LDR", "SJC", "BLD", "BIK", "SOD"], "MOR", ["SOD", "BLD", "SJC", "BIK", "LDR"],
    (211, 38, 58, 20.2, 185, 220, 203, 223), X_NARROW, X_NARROW_MAJ, X_NARROW_MIN,
    {"SOD": 120, "BLD": 150, "SJC": 120, "BIK": 95, "LDR": 105},
    {"SOD": 1.6, "BLD": 4.0, "SJC": 1.6, "BIK": 1.6, "LDR": 1.6}, True, False)

pf = make_panel(
    "(f)",
    {"SOD": (F_SOD_P, F_SOD_X, F_SOD_BP, F_SOD_LO, F_SOD_HI),
     "LIN": (F_LIN_P, F_LIN_X, F_LIN_BP, F_LIN_LO, F_LIN_HI),
     "BLD": (F_BLD_P, F_BLD_X, F_BLD_BP, F_BLD_LO, F_BLD_HI),
     "LDR": (F_LDR_P, F_LDR_X, F_LDR_BP, F_LDR_LO, F_LDR_HI)},
    ["LIN", "BLD", "SOD", "LDR"], "MST", ["SOD", "LIN", "BLD", "LDR"],
    (161, 17, 36, 20.3, 135, 172, 154, 175), X_WIDE, X_WIDE_MAJ, X_WIDE_MIN,
    {"SOD": 120, "LIN": 95, "BLD": 140, "LDR": 125},
    {"SOD": 3.0, "LIN": 3.0, "BLD": 3.0, "LDR": 3.0}, True, False, dotted=("LIN",))

row1 = alt.hconcat(pa, pb, pc, spacing=0)
row2 = alt.hconcat(pd_, pe, pf, spacing=0)
chart = alt.vconcat(row1, row2, spacing=0).configure_view(stroke="black", strokeWidth=2)

chart.save("out.html", embed_options={"renderer": "svg", "actions": False})
